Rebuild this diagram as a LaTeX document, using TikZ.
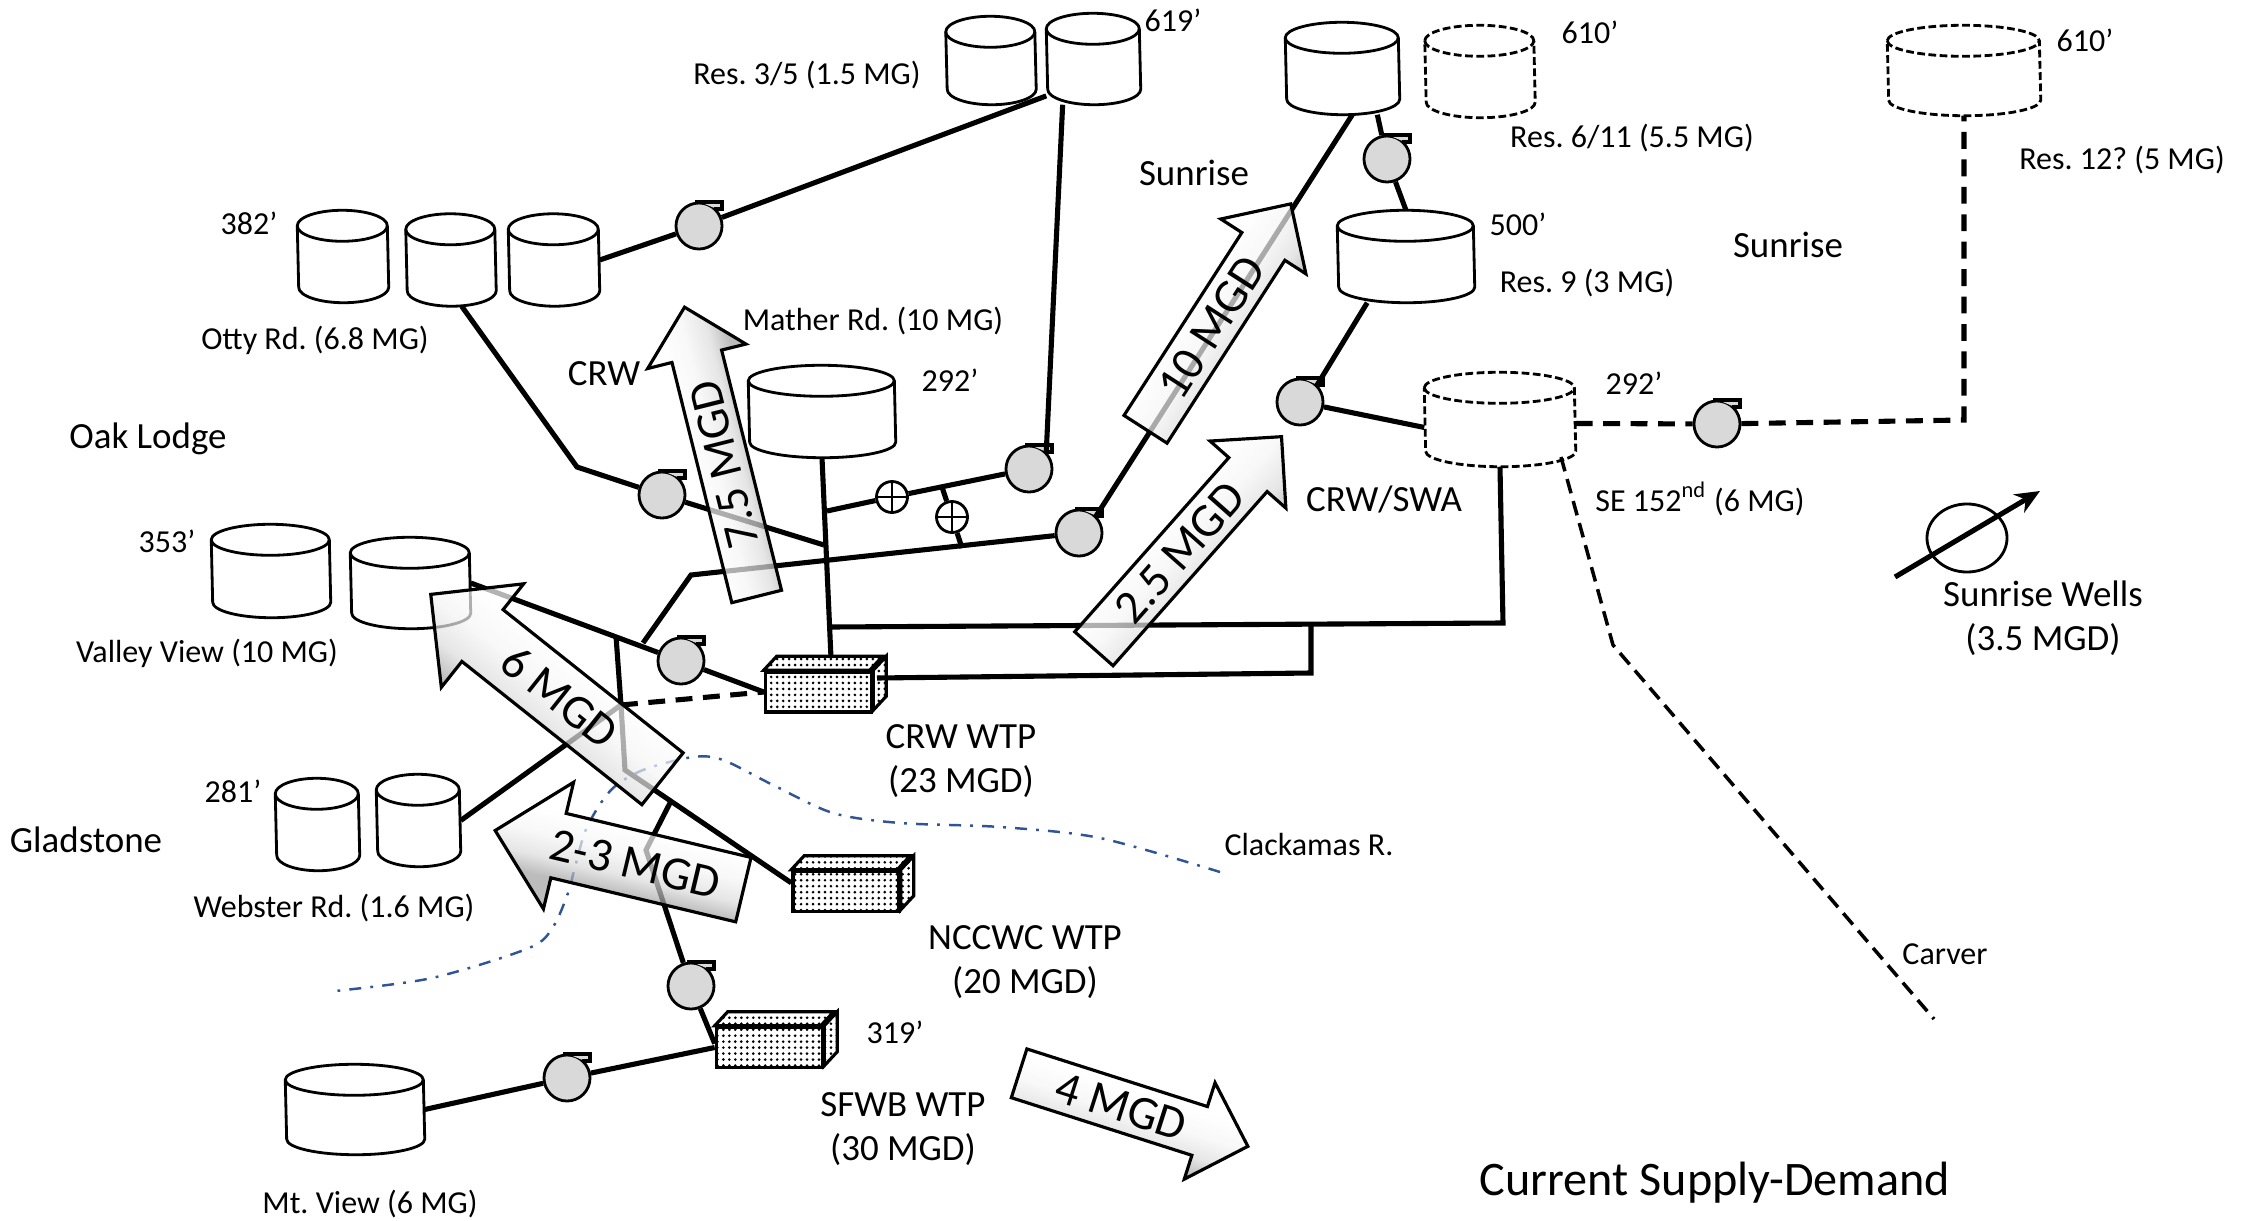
\documentclass[tikz,border=0pt]{standalone}
\usepackage{fontspec}
\setmainfont{Carlito}
\usetikzlibrary{shapes.geometric,shapes.arrows,patterns.meta,arrows.meta}
\definecolor{riverblue}{RGB}{47,85,151}
\pgfdeclareverticalshading{flowshade}{100bp}{color(0bp)=(gray!75);color(37bp)=(gray!75);color(43bp)=(gray!28);color(50bp)=(gray!8);color(58bp)=(white);color(100bp)=(white)}
\tikzset{
  pipe/.style={line width=1.45pt},
  pipedash/.style={line width=1.45pt,dash pattern=on 4.8pt off 3pt},
  tanknode/.style={rectangle,inner sep=0pt},
  tankline/.style={line width=.8pt},
  tankplan/.style={line width=.8pt,dash pattern=on 2.2pt off 1pt},
  pumpnode/.style={circle,draw,fill=gray!30,line width=.8pt,minimum size=4.6mm,inner sep=0pt},
  pumptag/.style={line width=1.1pt},
  valve/.style={circle,draw,fill=white,line width=.8pt,minimum size=3.1mm,inner sep=0pt,
    path picture={\draw[line width=.7pt] (path picture bounding box.north)--(path picture bounding box.south)
      (path picture bounding box.west)--(path picture bounding box.east);}},
  wtpbox/.style={rectangle,draw,line width=1pt,minimum width=10.6mm,minimum height=4mm,inner sep=0pt,
    preaction={fill=white},pattern={Dots[distance=1.7pt,radius=.42pt]}},
  wtpface/.style={draw,line width=.9pt,preaction={fill=white},pattern={Dots[distance=1.7pt,radius=.42pt]}},
  lbl/.style={inner sep=0pt,font=\fontsize{9.1pt}{12.4pt}\selectfont,align=center},
  lblbig/.style={inner sep=0pt,font=\fontsize{10.5pt}{12.6pt}\selectfont,align=center},
  flowarrow/.style={single arrow,draw,line width=.9pt,shade,shading=flowshade,fill opacity=.7,text opacity=1,
    inner sep=0pt,anchor=tip,single arrow tip angle=90,font=\fontsize{13.5pt}{15pt}\selectfont},
  flowwide/.style={flowarrow,text height=4.7mm,text depth=1.6mm},
  flownarrow/.style={flowarrow,text height=3.95mm,text depth=.85mm},
  river/.style={color=riverblue,line width=.7pt,dash pattern=on 3.4pt off 2.6pt on .8pt off 2.6pt}
}
\newcommand\tank[5]{\node[tanknode,minimum width=2*#3,minimum height=#4] (#1) at (#2) {};
  \draw[#5,fill=white] ([yshift=-1.55mm]#1.north west) arc[start angle=180,end angle=0,x radius=#3,y radius=1.55mm]
    -- ([yshift=1.55mm]#1.south east) arc[start angle=0,end angle=-180,x radius=#3,y radius=1.55mm] -- cycle;
  \draw[#5] ([yshift=-1.55mm]#1.north west) arc[start angle=180,end angle=360,x radius=#3,y radius=1.55mm];}
\newcommand\pump[2]{\node[pumpnode] (#1) at (#2) {};
  \fill[gray!30] (#1.north) -- ++(23,0) -- ++(0,7) -- ++(-8,0) -- (#1.north east) -- cycle;
  \draw[pumptag] ([xshift=-.4mm]#1.north) -- ++(27,0) -- ++(0,7) -- ++(-8,0);}
\newcommand\wtp[2]{\node[wtpbox] (#1) at (#2) {};
  \draw[wtpface] (#1.north west) -- ++(13,-14) -- ++(106,0) -- ++(-13,14) -- cycle;
  \draw[wtpface] (#1.north east) -- ++(13,-14) -- ++(0,40) -- ++(-13,14) -- cycle;}
\begin{document}
\frenchspacing
\begin{tikzpicture}[x=0.01cm,y=-0.01cm]
\useasboundingbox (0,0) rectangle (2256,1221);
\draw[river] plot[smooth] coordinates {(1220,872) (1100,838) (1000,827) (900,823) (833,813) (773,785) (723,760) (693,757) (643,770) (611,790) (587,827) (575,867) (568,893) (553,927) (529,948) (432,978) (335,991)};

\tank{otty1}{343,256.5}{4.5mm}{9.1mm}{tankline}
\tank{otty2}{451,260}{4.45mm}{9.1mm}{tankline}
\tank{otty3}{554,260}{4.5mm}{9.1mm}{tankline}
\tank{res3}{991,60.5}{4.45mm}{8.7mm}{tankline}
\tank{res5}{1093.5,59}{4.65mm}{9mm}{tankline}
\tank{res6}{1342.5,68.5}{5.65mm}{9.1mm}{tankline}
\tank{res11}{1480,71.5}{5.45mm}{9.1mm}{tankplan}
\tank{res9}{1406,256.5}{6.8mm}{9.1mm}{tankline}
\tank{res12}{1964,70.5}{7.6mm}{8.9mm}{tankplan}
\tank{se152}{1500,419.5}{7.5mm}{9.3mm}{tankplan}
\tank{mather}{822,411.5}{7.3mm}{9.1mm}{tankline}
\tank{valley1}{271,571}{5.9mm}{9.2mm}{tankline}
\tank{valley2}{410.5,583}{5.95mm}{9mm}{tankline}
\tank{webster1}{317.5,824.5}{4.15mm}{9.1mm}{tankline}
\tank{webster2}{418.5,820.5}{4.15mm}{9.1mm}{tankline}
\tank{mtview}{355,1109.5}{6.9mm}{8.9mm}{tankline}

\pump{pumpa}{699,226}
\pump{pumpb}{662,495}
\pump{pumpc}{1029,469}
\pump{pumpd}{1079,533}
\pump{pumpe}{1387,159}
\pump{pumpf}{1300,402}
\pump{pumpg}{1717,424}
\pump{pumph}{681,661}
\pump{pumpi}{691,986}
\pump{pumpj}{567,1078}
\node[valve] (valvea) at (892,497) {};
\node[valve] (valveb) at (952,517) {};
\wtp{crw}{818.5,692}
\wtp{nccwc}{846,891.5}
\wtp{sfwb}{769.5,1047.5}

\coordinate (ottybend) at (577,467);
\coordinate (matherjoin) at (827,511);
\coordinate (matherleft) at (824,545);
\coordinate (matherback) at (831,658);
\coordinate (crossjoin) at (831,627);
\coordinate (lowbend) at (691,575);
\coordinate (lowjoin) at (643,643);
\coordinate (valveup) at (942,487);
\coordinate (valvedown) at (962,548);
\coordinate (crwright) at (877,678);
\coordinate (crwfar) at (1311,673);
\coordinate (crwup) at (1311,623);
\coordinate (secorner) at (1503,623);
\coordinate (sejoin) at (1561,457);
\coordinate (vvjoin) at (616,636);
\coordinate (vvmid) at (621,705);
\coordinate (vvlow) at (625,770);
\coordinate (southtop) at (670,803);
\coordinate (southbend) at (646,850);
\coordinate (carverbend) at (1613,645);
\coordinate (carverend) at (1934,1019);
\coordinate (dashcorner) at (1964,420);
\coordinate (wellstart) at (1895,577);
\coordinate (wellend) at (2040,491);

\draw[pipe] (otty3.0) -- (pumpa) -- (res5.218);
\draw[pipe] (res5.236) -- (pumpc.north east);
\draw[pipe] (pumpc) -- (valvea) -- (matherjoin);
\draw[pipe] (valveup) -- (valveb) -- (valvedown);
\draw[pipe] (mather.270) -- (matherback);
\draw[pipe] (otty2.283) -- (ottybend) -- (pumpb) -- (matherleft);
\draw[pipe] (pumpd) -- (lowbend) -- (lowjoin);
\draw[pipe] (pumpd.north east) -- (res6.282);
\draw[pipe] (res6.307) -- (pumpe) -- (res9.90);
\draw[pipe] (res9.230) -- (pumpf.north east);
\draw[pipe] (pumpf) -- (se152.186);
\draw[pipe] (se152.270) -- (secorner) -- (crossjoin);
\draw[pipe] (crwright) -- (crwfar) -- (crwup);
\draw[pipe] (valley2.0) -- (pumph) -- (crw.west);
\draw[pipe] (vvjoin) -- (vvmid) -- (vvlow) -- (nccwc.171);
\draw[pipedash] (vvmid) -- (crw.west);
\draw[pipe] (webster2.0) -- (vvmid);
\draw[pipe] (southtop) -- (southbend) -- (pumpi) -- (sfwb.176);
\draw[pipe] (mtview.0) -- (pumpj) -- (sfwb.west);
\draw[pipedash] (se152.357) -- (pumpg) -- (dashcorner) -- (res12.270);
\draw[line width=1pt,dash pattern=on 4.2pt off 2.3pt] (sejoin) -- (carverbend) -- (carverend);

\node[ellipse,draw,line width=.8pt,minimum width=8mm,minimum height=6.8mm,inner sep=0pt] (well) at (1967,538) {};
\draw[pipe,-{Stealth[length=7pt,width=6pt]}] (wellstart) -- (wellend);

\node[flowwide,rotate=-38.5,shading angle=-38.5,shape border rotate=180,minimum height=29.6mm,minimum width=12.9mm,single arrow head extend=3.3mm] (flowsix) at (429,593) {6 MGD};
\node[flowwide,rotate=-13.4,shading angle=-13.4,shape border rotate=180,minimum height=25.5mm,minimum width=12.7mm,single arrow head extend=3.2mm] (flowtwo) at (493,830) {2-3 MGD};
\node[flownarrow,rotate=104,shading angle=104,minimum height=29.8mm,minimum width=9.85mm,single arrow head extend=2.5mm] (flowseven) at (684,305) {7.5 MGD};
\node[flownarrow,rotate=57.2,shading angle=57.2,minimum height=26.8mm,minimum width=9.9mm,single arrow head extend=2.5mm] (flowten) at (1292,202) {10 MGD};
\node[flownarrow,rotate=48.5,shading angle=48.5,minimum height=28.3mm,minimum width=9.85mm,single arrow head extend=2.5mm] (flowtwohalf) at (1283,435) {2.5 MGD};
\node[flownarrow,rotate=-17.7,shading angle=-17.7,minimum height=24mm,minimum width=9.9mm,single arrow head extend=2.5mm] (flowfour) at (1250,1147) {4 MGD};

\node[lbl] (lresa) at (807,75) {Res. 3/5 (1.5 MG)};
\node[lbl] (lelva) at (1173,20) {619’};
\node[lbl] (lelvb) at (1590,32) {610’};
\node[lbl] (lresb) at (1632,138) {Res. 6/11 (5.5 MG)};
\node[lblbig] (lsuna) at (1194,173) {Sunrise};
\node[lbl] (lelvc) at (2085,40) {610’};
\node[lbl] (lresc) at (2122,160) {Res. 12? (5 MG)};
\node[lblbig] (lsunb) at (1788,245) {Sunrise};
\node[lbl] (lelvd) at (1518,224) {500’};
\node[lbl] (lresd) at (1587,283) {Res. 9 (3 MG)};
\node[lbl] (lelve) at (249,223) {382’};
\node[lbl] (lotty) at (315,340) {Otty Rd. (6.8 MG)};
\node[lblbig] (lcrw) at (604,374) {CRW};
\node[lbl] (lmather) at (873,321) {Mather Rd. (10 MG)};
\node[lbl] (lelvf) at (950,380) {292’};
\node[lbl] (lelvg) at (1634,383) {292’};
\node[lblbig] (loak) at (148,439) {Oak Lodge};
\node[lblbig] (lswa) at (1384,499) {CRW/SWA};
\node[lbl] (lse) at (1700,499) {SE 152\textsuperscript{nd} (6 MG)};
\node[lbl] (lelvh) at (167,541) {353’};
\node[lbl] (lvalley) at (207,653) {Valley View (10 MG)};
\node[lblbig] (lwells) at (2043,618) {Sunrise Wells\\(3.5 MGD)};
\node[lblbig] (lcrwtp) at (961,761) {CRW WTP\\(23 MGD)};
\node[lbl] (lelvi) at (233,791) {281’};
\node[lblbig] (lglad) at (86,840) {Gladstone};
\node[lbl] (lwebster) at (334,908) {Webster Rd. (1.6 MG)};
\node[lbl] (lclack) at (1309,845) {Clackamas R.};
\node[lblbig] (lnccwc) at (1025,962) {NCCWC WTP\\(20 MGD)};
\node[lbl] (lelvj) at (895,1032) {319’};
\node[lbl] (lcarver) at (1945,954) {Carver};
\node[lblbig] (lsfwb) at (903,1129) {SFWB WTP\\(30 MGD)};
\node[lbl] (lmt) at (370,1204) {Mt. View (6 MG)};
\node[inner sep=0pt,font=\fontsize{13.7pt}{16pt}\selectfont] (ltitle) at (1715,1183) {Current Supply-Demand};
\end{tikzpicture}
\end{document}
